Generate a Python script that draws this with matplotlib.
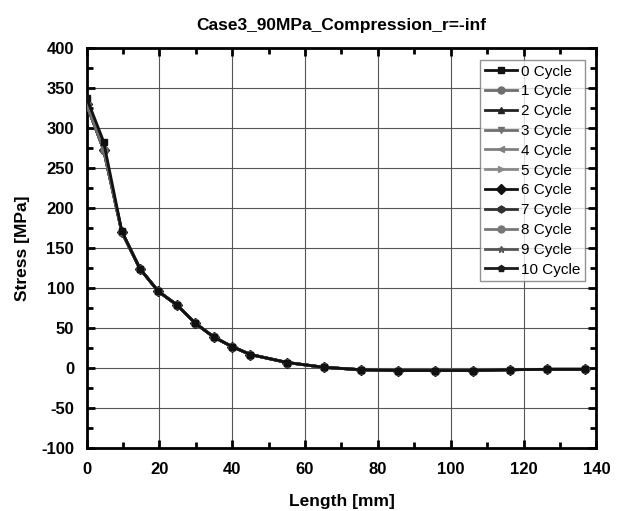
import matplotlib
matplotlib.use("Agg")
import matplotlib.pyplot as plt
from matplotlib.ticker import MultipleLocator

plt.rcParams['font.family'] = ['Liberation Sans', 'DejaVu Sans']
plt.rcParams['axes.unicode_minus'] = False

length = [0, 4.7, 9.7, 14.7, 19.7, 24.8, 29.9, 34.9, 39.9, 45.0, 55.1, 65.2,
          75.3, 85.6, 95.8, 106.1, 116.2, 126.5, 136.8]
stress_c0 = [338, 283, 171, 124, 96, 79, 56, 39, 27, 17, 7, 1,
             -2, -3, -3, -3, -2, -1.5, -1.5]
stress_other = [330, 273, 170, 124, 96, 79, 56, 39, 27, 17, 7, 1,
                -2, -3, -3, -3, -2, -1.5, -1.5]

cycles = ["0 Cycle", "1 Cycle", "2 Cycle", "3 Cycle", "4 Cycle", "5 Cycle",
          "6 Cycle", "7 Cycle", "8 Cycle", "9 Cycle", "10 Cycle"]
markers = ["s", "o", "^", "v", "<", ">", "D", "h", "o", "*", "p"]
colors = ["#111111", "#6e6e6e", "#222222", "#707070", "#808080", "#8a8a8a",
          "#111111", "#303030", "#777777", "#555555", "#1a1a1a"]

fig = plt.figure(figsize=(6.18, 5.11), dpi=100)
ax = fig.add_axes([0.140, 0.123, 0.825, 0.783])

for i, (name, m, c) in enumerate(zip(cycles, markers, colors)):
    ys = stress_c0 if i == 0 else stress_other
    ax.plot(length, ys, color=c, lw=2.0, marker=m, ms=5,
            markerfacecolor=c, markeredgecolor=c, label=name, zorder=3 + (10 - i) * 0.01)

ax.set_xlim(0, 140)
ax.set_ylim(-100, 400)
ax.xaxis.set_major_locator(MultipleLocator(20))
ax.xaxis.set_minor_locator(MultipleLocator(10))
ax.yaxis.set_major_locator(MultipleLocator(50))
ax.yaxis.set_minor_locator(MultipleLocator(25))
ax.grid(True, which='major', color='#555555', lw=0.8)
ax.set_axisbelow(True)

ax.tick_params(which='both', direction='in', top=True, right=True,
               labelsize=12, width=2)
ax.tick_params(which='major', length=6)
ax.tick_params(which='minor', length=4)
ax.tick_params(axis='x', which='major', pad=10)
ax.tick_params(axis='y', which='major', pad=9)
for lab in ax.get_xticklabels() + ax.get_yticklabels():
    lab.set_fontweight('bold')
for s in ax.spines.values():
    s.set_linewidth(2)

ax.set_title("Case3_90MPa_Compression_r=-inf", fontsize=12.5, fontweight='bold', pad=13)
ax.set_xlabel("Length [mm]", fontsize=12.5, fontweight='bold', labelpad=12)
ax.set_ylabel("Stress [MPa]", fontsize=12.5, fontweight='bold', labelpad=8)

leg = ax.legend(loc='upper right', bbox_to_anchor=(0.978, 0.97), fontsize=11,
                frameon=True, fancybox=False, edgecolor='#777777',
                labelspacing=0.38, handlelength=2.1, handletextpad=0.3,
                borderpad=0.3, borderaxespad=0)
leg.get_frame().set_linewidth(1)

fig.savefig("out.png", dpi=100, facecolor='white')
